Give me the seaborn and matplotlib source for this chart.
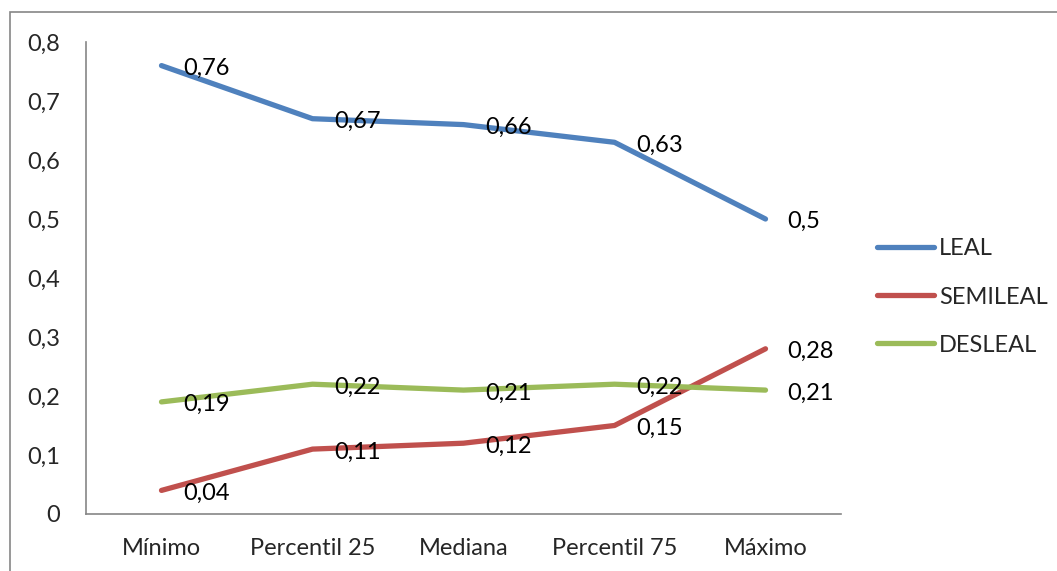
import matplotlib
matplotlib.use("Agg")
import matplotlib.pyplot as plt
from matplotlib.patches import Rectangle
import pandas as pd
import seaborn as sns

categories = ["Mínimo", "Percentil 25", "Mediana", "Percentil 75", "Máximo"]
leal = [0.76, 0.67, 0.66, 0.63, 0.50]
semileal = [0.04, 0.11, 0.12, 0.15, 0.28]
desleal = [0.19, 0.22, 0.21, 0.22, 0.21]
series_names = ["LEAL", "SEMILEAL", "DESLEAL"]
yticks = [0, 0.1, 0.2, 0.3, 0.4, 0.5, 0.6, 0.7, 0.8]

colors = {"LEAL": "#4F81BD", "SEMILEAL": "#C0504D", "DESLEAL": "#9BBB59"}

rows = []
for name, vals in zip(series_names, [leal, semileal, desleal]):
    for i, v in enumerate(vals):
        rows.append({"pos": i, "valor": v, "serie": name})
df = pd.DataFrame(rows)

sns.set_theme(style="white")
plt.rcParams["font.family"] = ["Lato", "DejaVu Sans"]
FS = 17

fig = plt.figure(figsize=(10.57, 5.71), dpi=100)
ax = fig.add_axes([86 / 1057, 1 - 514 / 571, (841 - 86) / 1057, (514 - 42) / 571])

sns.lineplot(data=df, x="pos", y="valor", hue="serie", hue_order=series_names,
             palette=colors, linewidth=3.8, ax=ax, legend=False,
             solid_capstyle="round")

def fmt(v):
    s = f"{v:.2f}".rstrip("0").rstrip(".")
    return s.replace(".", ",")

for name, vals in zip(series_names, [leal, semileal, desleal]):
    for i, v in enumerate(vals):
        ax.annotate(fmt(v), (i, v), xytext=(16, -2), textcoords="offset points",
                    ha="left", va="center", fontsize=FS, color="black")

ax.set_xlim(-0.5, 4.5)
ax.set_ylim(0, 0.8)
ax.set_yticks(yticks)
ax.set_yticklabels([fmt(t) if t else "0" for t in yticks], fontsize=FS)
ax.set_xticks([i - 0.5 for i in range(len(categories) + 1)])
ax.set_xticklabels([])
ax.set_xticks(range(len(categories)), minor=True)
ax.set_xticklabels(categories, minor=True, fontsize=FS)
ax.tick_params(axis="x", which="minor", length=0, pad=17)
ax.tick_params(axis="x", which="major", length=7, width=1.2, color="#868686", direction="out")
ax.tick_params(axis="y", length=6.5, width=1.2, color="#868686", direction="out", pad=12)
ax.set_xlabel("")
ax.set_ylabel("")

for side in ["top", "right"]:
    ax.spines[side].set_visible(False)
for side in ["left", "bottom"]:
    ax.spines[side].set_color("#868686")
    ax.spines[side].set_linewidth(1.2)

# legend drawn as lines with labels on the right
handles = [plt.Line2D([0], [0], color=colors[n], linewidth=3.8, solid_capstyle="round")
           for n in series_names]
fig.legend(handles, series_names, loc="center left",
           bbox_to_anchor=(868 / 1057, 1 - 297 / 571), frameon=False,
           fontsize=FS, handlelength=2.4, handletextpad=0.2, labelspacing=1.15,
           borderaxespad=0)

# outer chart border
fig.patches.append(Rectangle((10 / 1057, -0.05), 1.2, 1 - 12.5 / 571 + 0.05,
                             transform=fig.transFigure, fill=False,
                             edgecolor="#868686", linewidth=1.2))

fig.savefig("out.png", dpi=100)
